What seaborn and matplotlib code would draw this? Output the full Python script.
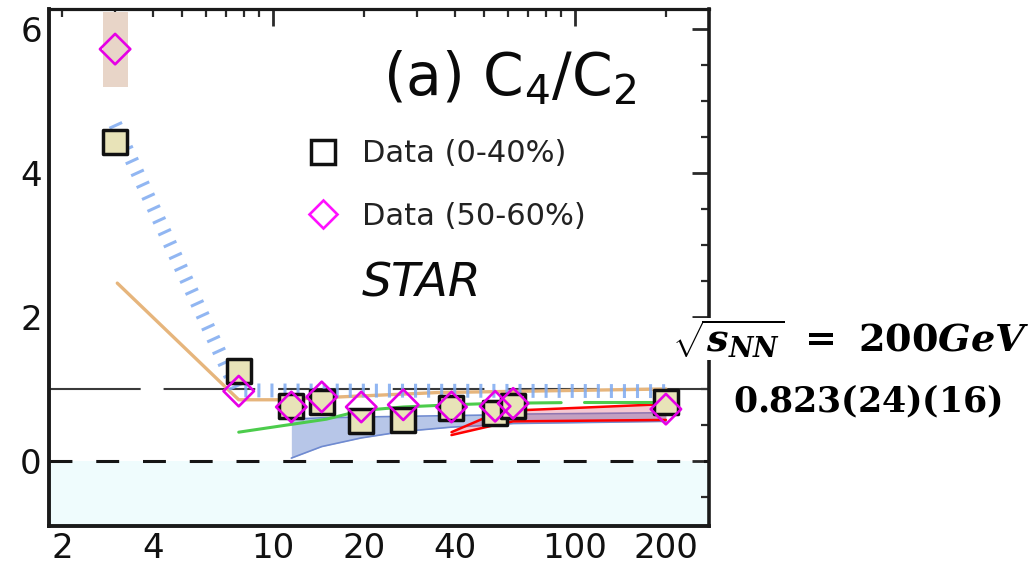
import numpy as np
import pandas as pd
import matplotlib
matplotlib.use("Agg")
import matplotlib.pyplot as plt
from matplotlib.lines import Line2D
from matplotlib.ticker import FuncFormatter
import seaborn as sns

# ---- measured cumulant ratios -------------------------------------------
energy = [3.0, 7.7, 11.5, 14.5, 19.6, 27.0, 39.0, 54.4, 62.4, 200.0]
c4c2_central = [4.43, 1.25, 0.76, 0.82, 0.56, 0.57, 0.73, 0.66, 0.76, 0.823]
c4c2_peripheral = [5.72, 0.97, 0.75, 0.89, 0.75, 0.78, 0.75, 0.76, 0.80, 0.72]
sys_peripheral_3gev = 0.52

# ---- model curves ---------------------------------------------------------
hatch_x = [3.0, 7.6, 200.0]
hatch_y = [4.68, 0.98, 0.97]
tan_x = [3.05, 7.7, 10.5, 16.7, 35.0, 200.0]
tan_y = [2.47, 0.85, 0.85, 0.89, 0.95, 1.00]
green_x1 = [7.7, 15.0, 19.6, 27.0, 39.0, 54.4, 90.0]
green_y1 = [0.40, 0.58, 0.70, 0.75, 0.78, 0.80, 0.81]
green_x2 = [107.0, 200.0]
green_y2 = [0.82, 0.82]
steel_x = [11.5, 14.5, 19.6, 27.0, 39.0, 54.4, 62.4, 200.0]
steel_lo = [0.04, 0.20, 0.32, 0.41, 0.47, 0.50, 0.52, 0.55]
steel_hi = [0.58, 0.60, 0.61, 0.62, 0.63, 0.64, 0.65, 0.67]
red_x = [39.0, 54.4, 62.4, 200.0]
red_lo = [0.36, 0.50, 0.55, 0.57]
red_hi = [0.40, 0.66, 0.70, 0.79]

# ---- axis ticks -----------------------------------------------------------
x_major = [10, 100]
x_minor = [2, 3, 4, 5, 6, 7, 8, 9, 20, 30, 40, 50, 60, 70, 80, 90, 200]
x_labelled = [2, 4, 10, 20, 40, 100, 200]
y_major = [0, 2, 4, 6]
y_minor = [-0.5, 0.5, 1, 1.5, 2.5, 3, 3.5, 4.5, 5, 5.5, 6]

legend_labels = ["Data (0-40%)", "Data (50-60%)"]

sns.set_theme(style="white")
plt.rcParams["font.family"] = ["DejaVu Sans"]
# bold serif math for the quoted result
plt.rcParams["mathtext.fontset"] = "custom"
plt.rcParams["mathtext.rm"] = "DejaVu Serif:bold"
plt.rcParams["mathtext.bf"] = "DejaVu Serif:bold"
plt.rcParams["mathtext.it"] = "DejaVu Serif:italic:bold"

fig = plt.figure(figsize=(10.32, 5.66), dpi=100)
ax = fig.add_axes([0.04719, 0.06979, 0.63953, 0.91343])
ax.set_xscale("log")
ax.set_xlim(1.808, 277.2)
ax.set_ylim(-0.91, 6.27)

# negative region shading and reference lines
ax.axhspan(-5, 0, color="#effcfd", zorder=0, lw=0)
ax.axhline(0, color="#151515", lw=2.2, ls=(0, (7.5, 7.8)), zorder=1)
ax.axhline(1, color="#3a3a3a", lw=1.5, ls=(0, (44, 11)), zorder=1)

# model bands
ax.fill_between(steel_x, steel_lo, steel_hi, color="#7d97d6", alpha=0.55,
                lw=0, zorder=2)
sns.lineplot(x=steel_x, y=steel_lo, ax=ax, color="#6f8ad0", lw=1.2,
             sort=False, estimator=None, zorder=2)
sns.lineplot(x=steel_x, y=steel_hi, ax=ax, color="#6f8ad0", lw=1.2,
             sort=False, estimator=None, zorder=2)
ax.fill_between(red_x, red_lo, red_hi, color="#e04a6a", alpha=0.3,
                lw=0, zorder=2.5)
sns.lineplot(x=red_x, y=red_lo, ax=ax, color="#ff0000", lw=1.8,
             sort=False, estimator=None, zorder=2.6)
sns.lineplot(x=red_x, y=red_hi, ax=ax, color="#ff0000", lw=1.8,
             sort=False, estimator=None, zorder=2.6)

# model lines
sns.lineplot(x=green_x1, y=green_y1, ax=ax, color="#4ccc4c", lw=2.2,
             sort=False, estimator=None, zorder=3)
sns.lineplot(x=green_x2, y=green_y2, ax=ax, color="#4ccc4c", lw=2.2,
             sort=False, estimator=None, zorder=3)
sns.lineplot(x=tan_x, y=tan_y, ax=ax, color="#e6b57c", lw=2.4,
             sort=False, estimator=None, zorder=3)
sns.lineplot(x=hatch_x, y=hatch_y, ax=ax, color="#7eaaf0", lw=10,
             alpha=0.85, linestyle=(0, (0.22, 0.72)), dash_capstyle="butt",
             sort=False, estimator=None, zorder=4)

# systematic box of the 3 GeV peripheral point
ax.fill_between([energy[0] / 1.1, energy[0] * 1.1],
                c4c2_peripheral[0] - sys_peripheral_3gev,
                c4c2_peripheral[0] + sys_peripheral_3gev,
                color="#e8d5c8", lw=0, zorder=2)

# data points
sns.scatterplot(x=energy, y=c4c2_central, ax=ax, marker="s", s=320,
                color="#e8e3b8", facecolor="#e8e3b8", edgecolor="#111111",
                linewidth=2.5, zorder=5, legend=False)
sns.scatterplot(x=energy, y=c4c2_peripheral, ax=ax, marker="D", s=240,
                color="#e600e6", facecolor="none", edgecolor="#e600e6",
                linewidth=1.9, zorder=6, legend=False)

# ticks
ax.set_xticks(x_major)
ax.set_xticks(x_minor, minor=True)
ax.set_yticks(y_major)
ax.set_yticks(y_minor, minor=True)
fmt = FuncFormatter(lambda v, p: f"{v:g}" if any(abs(v - t) < 1e-6 for t in x_labelled) else "")
ax.xaxis.set_major_formatter(fmt)
ax.xaxis.set_minor_formatter(fmt)
ax.tick_params(which="both", direction="in", top=True, right=True,
               colors="#2a2a2a", labelcolor="#111111")
ax.tick_params(which="major", length=12, width=2.0, labelsize=24.5)
ax.tick_params(which="minor", length=5.5, width=1.6, labelsize=24.5)
ax.tick_params(axis="x", which="both", pad=4)
ax.tick_params(axis="y", which="both", pad=5)

for side, lw in [("left", 2.8), ("bottom", 2.8), ("top", 2.3), ("right", 2.6)]:
    ax.spines[side].set_visible(True)
    ax.spines[side].set_linewidth(lw)
    ax.spines[side].set_color("#1a1a1a")

# annotations inside the panel
ax.text(0.5065, 0.8346, r"(a) C$_4$/C$_2$", transform=ax.transAxes,
        fontsize=42, ha="left", va="baseline", color="#0a0a0a",
        math_fontfamily="dejavusans")
ax.text(0.4747, 0.444, "STAR", transform=ax.transAxes, fontsize=34,
        style="italic", ha="left", va="baseline", color="#0a0a0a")

handles = [
    Line2D([], [], marker="s", ls="none", markersize=17, mfc="white",
           mec="#111111", mew=2.5),
    Line2D([], [], marker="D", ls="none", markersize=14.5, mfc="none",
           mec="#ff10ff", mew=1.9),
]
ax.legend(handles, legend_labels, loc="upper left",
          bbox_to_anchor=(0.3785, 0.749), frameon=False, fontsize=22,
          handlelength=1.6, handletextpad=0.47, labelspacing=1.1,
          borderpad=0, borderaxespad=0, labelcolor="#222222")

# result quoted beside the panel
fig.text(0.651, 0.378, r"$\sqrt{s_{NN}}\ =\ 200GeV$",
         fontsize=27.5, math_fontfamily="custom", ha="left", va="baseline",
         color="black",
         bbox=dict(facecolor="white", edgecolor="none", pad=0), zorder=10)
fig.text(0.710, 0.272, r"$0.823(24)(16)$", fontsize=25,
         math_fontfamily="custom", ha="left", va="baseline", color="black",
         zorder=10)

fig.savefig("out.png", dpi=100)
